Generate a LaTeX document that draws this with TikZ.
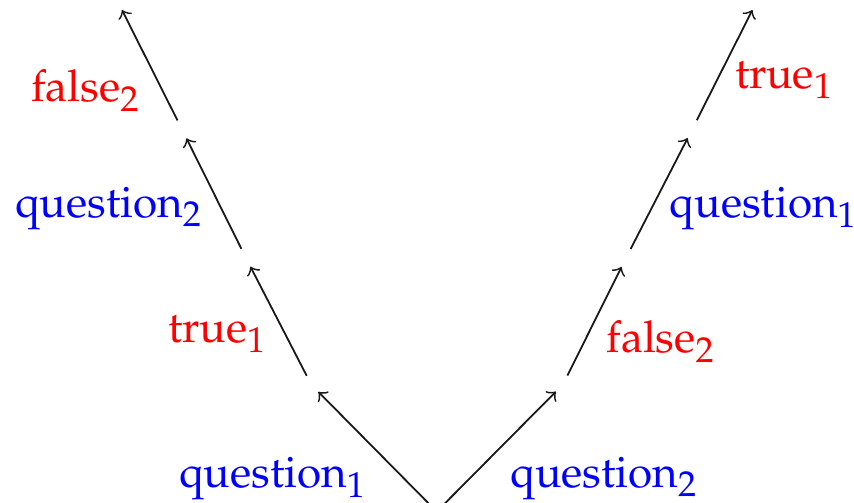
\documentclass[tikz,border=0pt]{standalone}
\usepackage[T1]{fontenc}
\usepackage{mathpazo}
\DeclareMathSizes{11}{11}{9}{7}
\tikzset{
  junction/.style={circle,inner sep=0pt,minimum size=4.6pt},
  move/.style={->,line width=.45pt,draw=black!90},
  ask/.style={font=\fontsize{11}{13}\selectfont,text=blue},
  answer/.style={font=\fontsize{11}{13}\selectfont,text=red}
}
\begin{document}
\begin{tikzpicture}
  \useasboundingbox (0,0) rectangle (7.503,4.419);
  \node[junction] (root) at (3.837,-0.076) {};
  \node[junction] (l1) at (2.735,1.039) {};
  \node[junction] (l2) at (2.160,2.154) {};
  \node[junction] (l3) at (1.599,3.282) {};
  \coordinate (l4) at (1.072,4.331);
  \node[junction] (r1) at (4.946,1.041) {};
  \node[junction] (r2) at (5.500,2.153) {};
  \node[junction] (r3) at (6.082,3.284) {};
  \coordinate (r4) at (6.610,4.331);
  \draw[move] (root) -- node[ask,pos=.235,left=5.6pt] {question$_1$} (l1);
  \draw[move] (l1) -- node[answer,pos=.38,left=1pt] {true$_1$} (l2);
  \draw[move] (l2) -- node[ask,pos=.37,left=1pt] {question$_2$} (l3);
  \draw[move] (l3) -- node[answer,pos=.27,left=2pt] {false$_2$} (l4);
  \draw[move] (root) -- node[ask,pos=.235,right=6.5pt] {question$_2$} (r1);
  \draw[move] (r1) -- node[answer,pos=.31,right=2pt] {false$_2$} (r2);
  \draw[move] (r2) -- node[ask,pos=.37,right=1pt] {question$_1$} (r3);
  \draw[move] (r3) -- node[answer,pos=.36,right=1pt] {true$_1$} (r4);
\end{tikzpicture}
\end{document}
